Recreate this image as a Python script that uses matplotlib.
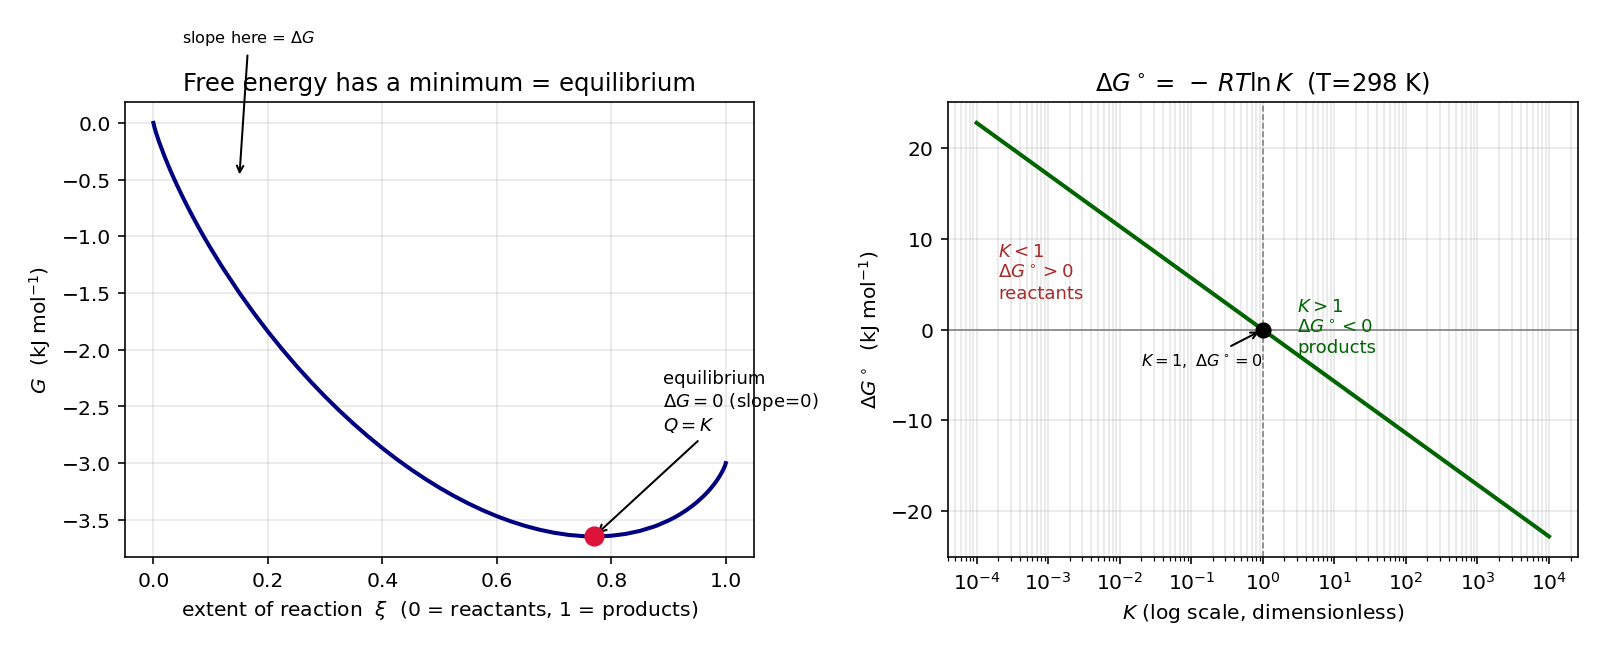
import matplotlib
matplotlib.use("Agg")
import matplotlib.pyplot as plt

# Left panel: G along the extent of reaction
xi = [0.0, 0.001, 0.002, 0.005, 0.01, 0.02, 0.03, 0.04, 0.05, 0.06, 0.07,
      0.08, 0.09, 0.10, 0.12, 0.15, 0.175, 0.20, 0.225, 0.25, 0.275, 0.30,
      0.325, 0.35, 0.375, 0.40, 0.425, 0.45, 0.475, 0.50, 0.525, 0.55,
      0.575, 0.60, 0.625, 0.65, 0.675, 0.70, 0.725, 0.75, 0.77, 0.775,
      0.80, 0.825, 0.85, 0.875, 0.88, 0.90, 0.91, 0.92, 0.93, 0.94, 0.95,
      0.96, 0.965, 0.97, 0.975, 0.98, 0.985, 0.99, 0.995, 0.998, 0.999, 1.0]
G = [0.0, -0.0226, -0.0417, -0.0930, -0.1687, -0.3029, -0.4238, -0.5361,
     -0.6418, -0.7423, -0.8384, -0.9307, -1.0196, -1.1054, -1.2691, -1.4973,
     -1.6739, -1.8398, -1.9960, -2.1432, -2.2822, -2.4135, -2.5373, -2.6541,
     -2.7641, -2.8675, -2.9644, -3.0549, -3.1392, -3.2174, -3.2892, -3.3549,
     -3.4144, -3.4675, -3.5141, -3.5541, -3.5873, -3.6135, -3.6323, -3.6432,
     -3.6461, -3.6460, -3.6398, -3.6239, -3.5973, -3.5585, -3.5491, -3.5054,
     -3.4796, -3.4507, -3.4184, -3.3823, -3.3418, -3.2961, -3.2709, -3.2438,
     -3.2147, -3.1829, -3.1480, -3.1088, -3.0630, -3.0297, -3.0166, -3.0]
xi_eq = 0.770
G_eq = -3.646

# Right panel: standard free energy vs K
K = [1e-4, 1e-2, 1.0, 1e2, 1e4]
dG0 = [22.82, 11.41, 0.0, -11.41, -22.82]

fig, (ax1, ax2) = plt.subplots(1, 2, figsize=(11, 4.5), dpi=1600 / 11)
fig.subplots_adjust(left=0.078, right=0.986, bottom=0.148, top=0.843, wspace=0.3075)

# --- left ---
ax1.plot(xi, G, color="navy", lw=2)
ax1.plot(xi_eq, G_eq, "o", color="crimson", markersize=9, zorder=5)
ax1.annotate("equilibrium\n$\\Delta G = 0$ (slope=0)\n$Q = K$",
             xy=(xi_eq, G_eq), xytext=(0.89, -2.71), fontsize=9,
             arrowprops=dict(arrowstyle="->", color="black", lw=1))
ax1.annotate("slope here = $\\Delta G$", xy=(0.15, -0.49), xytext=(0.05, 0.71),
             fontsize=8, arrowprops=dict(arrowstyle="->", color="black", lw=1))
ax1.set_xlabel("extent of reaction  $\\xi$  (0 = reactants, 1 = products)")
ax1.set_ylabel("$G$  (kJ mol$^{-1}$)")
ax1.set_title("Free energy has a minimum = equilibrium", fontsize=12)
ax1.grid(True, alpha=0.3)

# --- right ---
ax2.plot(K, dG0, color="darkgreen", lw=2)
ax2.set_xscale("log")
ax2.axhline(0, color="gray", lw=0.8)
ax2.axvline(1, color="gray", ls="--", lw=0.8)
ax2.plot(1, 0, "o", color="black", markersize=7, zorder=5)
ax2.annotate("$K=1,\\ \\Delta G^\\circ=0$", xy=(1, 0), xytext=(0.02, -4), fontsize=8,
             arrowprops=dict(arrowstyle="->", color="black", lw=1))
ax2.text(2e-4, 3, "$K<1$\n$\\Delta G^\\circ>0$\nreactants", color="brown",
         fontsize=9, va="bottom")
ax2.text(3, -3, "$K>1$\n$\\Delta G^\\circ<0$\nproducts", color="darkgreen",
         fontsize=9, va="bottom")
ax2.set_xlabel("$K$ (log scale, dimensionless)")
ax2.set_ylabel("$\\Delta G^\\circ$  (kJ mol$^{-1}$)")
ax2.set_title("$\\Delta G^\\circ = \\,-\\, RT\\ln K$  (T=298 K)", fontsize=12)
ax2.grid(True, which="both", alpha=0.3)

fig.savefig("out.png")
